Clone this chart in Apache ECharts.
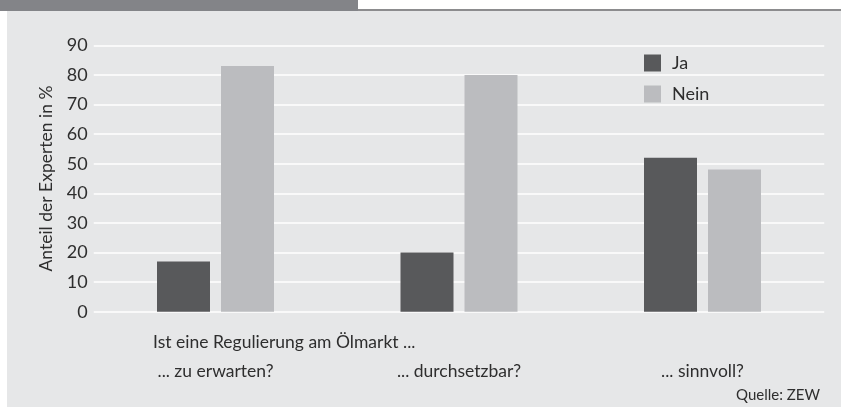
<!DOCTYPE html>
<html>
<head>
<meta charset="utf-8">
<script src="https://cdn.jsdelivr.net/npm/echarts@6/dist/echarts.min.js"></script>
<style>
html,body{margin:0;padding:0;background:#fff;}
#wrap{position:relative;width:841px;height:407px;overflow:hidden;}
#hdr{position:absolute;left:0;top:0;width:358px;height:11px;background:#838488;}
#hdrline{position:absolute;left:358px;top:9px;width:483px;height:2px;background:#8c8c8e;}
#bg{position:absolute;left:7px;top:11px;width:834px;height:396px;background:#e6e7e8;}
#chart{position:absolute;left:0;top:0;width:841px;height:407px;}
</style>
</head>
<body>
<div id="wrap">
<div id="hdr"></div><div id="hdrline"></div><div id="bg"></div>
<div id="chart"></div>
</div>
<script>
const categories = ['... zu erwarten?', '... durchsetzbar?', '... sinnvoll?'];
const seriesNames = ['Ja', 'Nein'];
const jaValues = [17, 20, 52];
const neinValues = [83, 80, 48];
const yTicks = [0, 10, 20, 30, 40, 50, 60, 70, 80, 90];
const yAxisTitle = 'Anteil der Experten in %';
const questionText = 'Ist eine Regulierung am Ölmarkt ...';
const sourceText = 'Quelle: ZEW';

const FONT = 'Lato';
const TXT = '#2e2e2e';
const chart = echarts.init(document.getElementById('chart'), null, {renderer: 'canvas'});
chart.setOption({
  backgroundColor: 'transparent',
  animation: false,
  textStyle: {fontFamily: FONT},
  grid: {left: 93.75, right: 16.75, top: 45.3, bottom: 95.3, containLabel: false},
  legend: {
    orient: 'vertical', left: 644, top: 54, padding: 0,
    itemWidth: 17, itemHeight: 17, itemGap: 13,
    icon: 'rect',
    textStyle: {fontFamily: FONT, fontSize: 18, color: TXT, padding: [0, 0, 0, 6]},
    data: seriesNames
  },
  xAxis: {
    type: 'category', data: categories,
    axisLine: {show: false}, axisTick: {show: false},
    axisLabel: {fontFamily: FONT, fontSize: 17.5, color: TXT, margin: 51}
  },
  yAxis: {
    type: 'value', min: yTicks[0], max: yTicks[yTicks.length - 1], interval: 10,
    name: yAxisTitle, nameLocation: 'middle', nameGap: 38,
    nameTextStyle: {fontFamily: FONT, fontSize: 17.5, color: TXT},
    axisLine: {show: false}, axisTick: {show: false},
    axisLabel: {fontFamily: FONT, fontSize: 18, color: TXT, margin: 6},
    splitLine: {lineStyle: {color: '#ffffff', width: 1.5}}
  },
  series: [
    {name: seriesNames[0], type: 'bar', data: jaValues, barWidth: 53, barGap: '20.75%',
     itemStyle: {color: '#58595b'}},
    {name: seriesNames[1], type: 'bar', data: neinValues, barWidth: 53, barGap: '20.75%',
     itemStyle: {color: '#bbbcbf'}}
  ],
  graphic: [
    {type: 'text', left: 153, top: 333, silent: true,
     style: {text: questionText, font: '17.5px ' + FONT, fill: TXT}},
    {type: 'text', right: 21, top: 388, silent: true,
     style: {text: sourceText, font: '15px ' + FONT, fill: TXT}}
  ]
});
</script>
</body>
</html>
